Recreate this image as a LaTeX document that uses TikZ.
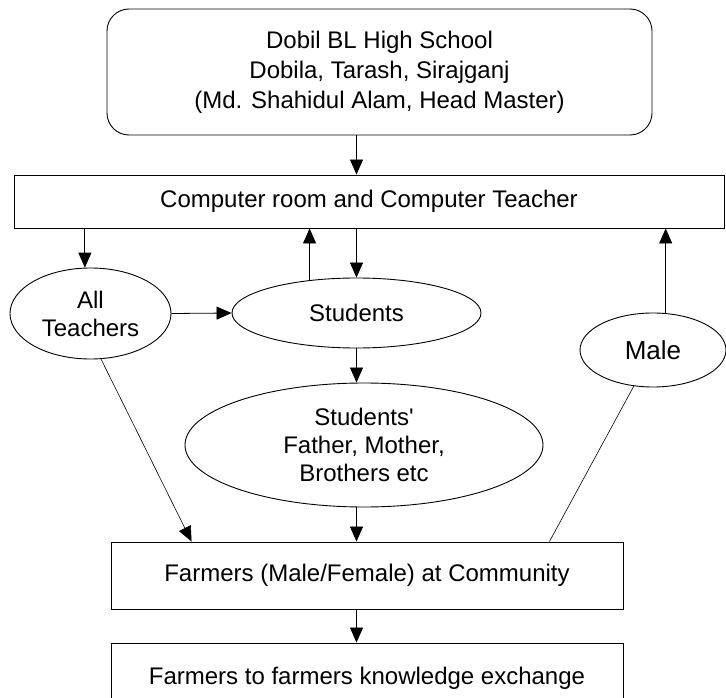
\documentclass[tikz,border=0pt]{standalone}
\usepackage{fontspec}
\setmainfont{Liberation Sans}[Ligatures=TeXOff]
\usetikzlibrary{shapes.geometric,arrows.meta}
\begin{document}
\begin{tikzpicture}[x=1pt,y=-1pt,
  every node/.style={font=\fontsize{24}{28}\selectfont, inner sep=0pt, line width=0.9pt},
  boxnode/.style={draw, rectangle, align=center},
  ellnode/.style={draw, ellipse, align=center},
  conn/.style={line width=0.8pt, -{Triangle[length=15pt,width=13pt]}},
  plain/.style={line width=0.6pt}]
\useasboundingbox (0,0) rectangle (726,698);
\clip (0,0) rectangle (726,698);
\fill[white] (0,0) rectangle (726,698);

\node[boxnode, rounded corners=22pt, minimum width=545pt, minimum height=126pt,
      font=\fontsize{24}{30}\selectfont] (top) at (379.5,72)
  {Dobil BL High School\\Dobila, Tarash, Sirajganj\\(Md. Shahidul Alam, Head Master)};
\node[boxnode, minimum width=710pt, minimum height=53pt] (computer) at (369,201.5)
  {Computer room and Computer Teacher};
\node[ellnode, minimum width=161pt, minimum height=91pt] (teachers) at (90.5,313.5)
  {All\\Teachers};
\node[ellnode, minimum width=249pt, minimum height=70pt] (students) at (356.5,313)
  {Students};
\node[ellnode, minimum width=146pt, minimum height=74pt,
      font=\fontsize{26}{30}\selectfont] (male) at (653,350) {Male};
\node[ellnode, minimum width=358pt, minimum height=124pt] (parents) at (364,445)
  {Students'\\Father, Mother,\\Brothers etc};
\node[boxnode, minimum width=512pt, minimum height=67pt] (farmers) at (367,575.5)
  {Farmers (Male/Female) at Community};
\node[boxnode, minimum width=512pt, minimum height=70pt] (bottom) at (367,678)
  {Farmers to farmers knowledge exchange};

\draw[conn] (top.south -| students.north) -- (computer.north -| students.north);
\draw[conn] (computer.south -| teachers.97.6) -- (teachers.97.6);
\draw[conn] (students.145.4) -- (students.145.4 |- computer.south);
\draw[conn] (students.north |- computer.south) -- (students.north);
\draw[conn] (teachers.east) -- (students.west);
\draw[conn] (male.71.8) -- (male.71.8 |- computer.south);
\draw[conn] (students.south) -- (students.south |- parents.north);
\draw[conn] (parents.south -| students.south) -- (farmers.north -| students.south);
\draw[conn] (farmers.south -| students.south) -- (bottom.north -| students.south);
\draw[plain, -{Triangle[length=15pt,width=13pt]}] (teachers.-77.4) -- ([xshift=81pt]farmers.north west);
\draw[plain] (male.-118) -- ([xshift=-74pt]farmers.north east);
\end{tikzpicture}
\end{document}
